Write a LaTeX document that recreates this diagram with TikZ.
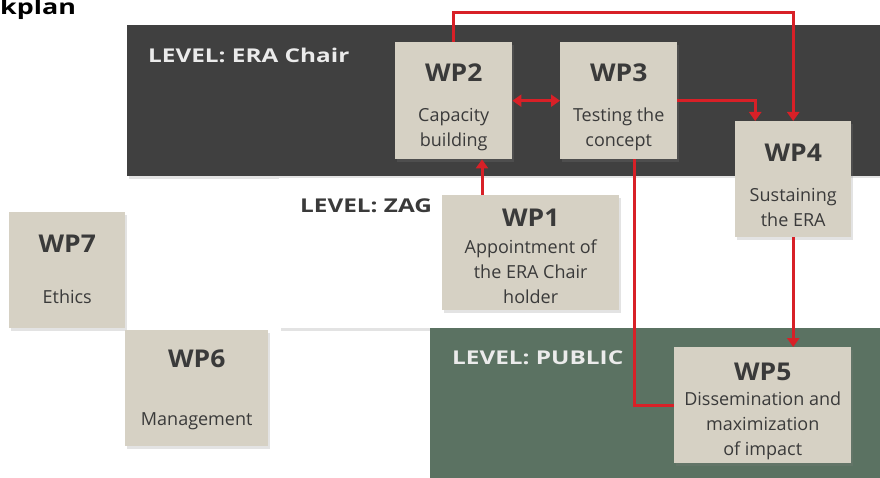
\documentclass[tikz,border=0pt]{standalone}
\usepackage{fontspec}
\setmainfont{Open Sans}
\newfontfamily\levelfont[FakeStretch=1.28]{Open Sans}
\newfontfamily\titlefont[FakeStretch=1.08]{Open Sans}
\usepackage{xcolor}
\usepackage{tikz}
\usetikzlibrary{calc,shadows,arrows.meta}
\definecolor{eradark}{RGB}{64,64,64}
\definecolor{pubgreen}{RGB}{91,114,98}
\definecolor{wpfill}{RGB}{214,209,196}
\definecolor{wptext}{RGB}{58,58,58}
\definecolor{flowred}{RGB}{216,32,39}

\tikzset{
  softshadow/.style={drop shadow={opacity=0.22, shadow xshift=2pt, shadow yshift=-3pt}},
  wpbox/.style={fill=wpfill, inner sep=0pt, anchor=north west, softshadow},
  wptitle/.style={anchor=base, inner sep=0pt, text=wptext, font=\titlefont\fontsize{24.5}{25}\selectfont\bfseries},
  wpbody/.style={anchor=base, inner sep=0pt, align=center, text=wptext, font=\fontsize{18}{25}\selectfont},
  levellabel/.style={anchor=base west, inner sep=0pt, font=\levelfont\fontsize{19}{19}\selectfont\bfseries},
  flow/.style={draw=flowred, line width=3pt, -{Triangle[length=9pt,width=12pt]}},
  flowline/.style={draw=flowred, line width=3pt},
}

\begin{document}
\begin{tikzpicture}[x=1pt,y=-1pt]
							\fill[white] (0,0) rectangle (880,478);
							\useasboundingbox (0,0) rectangle (880,478);
							
							\node[anchor=base west, inner sep=0pt, font=\levelfont\fontsize{21}{21}\selectfont\bfseries] (heading) at (0,15) {kplan};
							
							% levels
							\fill[eradark, softshadow] (127,25) rectangle (880,176);
							\fill[white, softshadow] (279,178) rectangle (880,328);
							\fill[pubgreen] (430,328) rectangle (880,478);
							
							\node[levellabel, text=white!92!black] (lvera) at (148,63) {LEVEL: ERA Chair};
							\node[levellabel, text=wptext] (lvzag) at (300,213) {LEVEL: ZAG};
							\node[levellabel, text=white!92!black] (lvpub) at (452,364) {LEVEL: PUBLIC};
							
							% work packages
							\node[wpbox, minimum width=117pt, minimum height=117pt] (wp2) at (395,42) {};
							\node[wpbox, minimum width=117pt, minimum height=117pt] (wp3) at (560,42) {};
							\node[wpbox, minimum width=116pt, minimum height=116pt] (wp4) at (735,121) {};
							\node[wpbox, minimum width=177pt, minimum height=115pt] (wp1) at (442,195) {};
							\node[wpbox, minimum width=177pt, minimum height=116pt] (wp5) at (674,347) {};
							\node[wpbox, minimum width=116pt, minimum height=116pt] (wp7) at (9,212) {};
							\node[wpbox, minimum width=143pt, minimum height=116pt] (wp6) at (125,330) {};
							
							\node[wptitle] (wp2t) at ($(wp2.north)+(0,40)$) {WP2};
							\node[wpbody] (wp2b) at ($(wp2t.base)+(0,65)$) {Capacity\\building};
							\node[wptitle] (wp3t) at ($(wp3.north)+(0,40)$) {WP3};
							\node[wpbody] (wp3b) at ($(wp3t.base)+(0,65)$) {Testing the\\concept};
							\node[wptitle] (wp4t) at ($(wp4.north)+(0,41)$) {WP4};
							\node[wpbody] (wp4b) at ($(wp4t.base)+(0,65)$) {Sustaining\\the ERA};
							\node[wptitle] (wp1t) at ($(wp1.north)+(0,32)$) {WP1};
							\node[wpbody] (wp1b) at ($(wp1t.base)+(0,76)$) {Appointment of\\the ERA Chair\\holder};
							\node[wptitle] (wp5t) at ($(wp5.north)+(0,33)$) {WP5};
							\node[wpbody] (wp5b) at ($(wp5t.base)+(0,75)$) {Dissemination and\\maximization\\of impact};
							\node[wptitle] (wp7t) at ($(wp7.north)+(0,40)$) {WP7};
							\node[wpbody] (wp7b) at ($(wp7t.base)+(0,51)$) {Ethics};
							\node[wptitle] (wp6t) at ($(wp6.north)+(0,37)$) {WP6};
							\node[wpbody] (wp6b) at ($(wp6t.base)+(0,58)$) {Management};
							
							% connectors
							\draw[flow] (wp2.north) -- ++(0,-29) -| (wp4.north);
							\draw[flow, {Triangle[length=9pt,width=12pt]}-{Triangle[length=9pt,width=12pt]}] (wp2.east) -- (wp3.west);
							\draw[flow] (wp3.east) -| ($(wp4.north)+(-38,0)$);
							\draw[flow] ($(wp1.north west)+(40,0)$) coordinate (up1) -- (up1 |- wp2.south);
							\draw[flowline] ($(wp3.south)+(16,0)$) |- (wp5.west);
							\draw[flow] (wp4.south) -- (wp4.south |- wp5.north);
						\end{tikzpicture}
\end{document}
